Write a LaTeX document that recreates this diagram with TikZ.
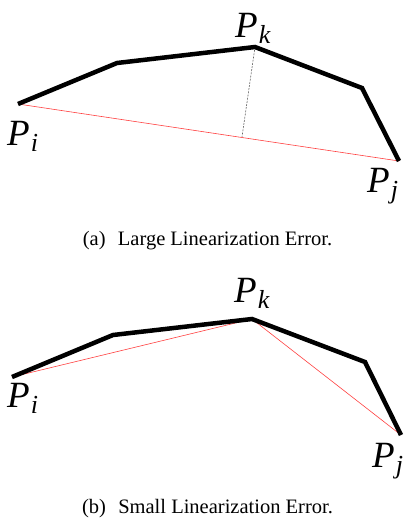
\documentclass[tikz,border=0pt]{standalone}
\usepackage{fontspec}
\setmainfont{Liberation Serif}
\begin{document}
\begin{tikzpicture}[x=1pt,y=-1pt,
  poly/.style={line width=4.5pt,line join=miter,black},
  chord/.style={line width=0.6pt,red!75},
  perp/.style={line width=0.6pt,gray!80!black,dash pattern=on 2pt off 1.2pt},
  lbl/.style={anchor=base west,inner sep=0pt,font=\fontsize{37}{42}\selectfont\itshape},
  captext/.style={anchor=base,inner sep=0pt,font=\fontsize{20.5}{24}\selectfont}]
\useasboundingbox (0,0) rectangle (412,520);
\newcommand\lblsub[2]{#1\hspace{1pt}\raisebox{-6pt}{\fontsize{26}{28}\selectfont #2}}
% top diagram
\coordinate (a1) at (18,104);
\coordinate (a2) at (117,63);
\coordinate (a3) at (255,47);
\coordinate (a4) at (362,88);
\coordinate (a5) at (399,161);
\coordinate (af) at (242,137);
\draw[chord] (a1) -- (a5);
\draw[perp] (a3) -- (af);
\draw[poly] (a1) -- (a2) -- (a3) -- (a4) -- (a5);
\node[lbl] (ai) at (7,145) {\lblsub{P}{i}};
\node[lbl] (ak) at (235,37) {\lblsub{P}{k}};
\node[lbl] (aj) at (367,192) {\lblsub{P}{j}};
\node[captext] (capa) at (207.5,245) {(a)\hspace{0.6em}Large Linearization Error.};
% bottom diagram
\coordinate (b1) at (12,377);
\coordinate (b2) at (113,335);
\coordinate (b3) at (252,319);
\coordinate (b4) at (365,362);
\coordinate (b5) at (401,435);
\draw[chord] (b1) -- (b3) -- (b5);
\draw[poly] (b1) -- (b2) -- (b3) -- (b4) -- (b5);
\node[lbl] (bi) at (7,407) {\lblsub{P}{i}};
\node[lbl] (bk) at (234,302) {\lblsub{P}{k}};
\node[lbl] (bj) at (372,467) {\lblsub{P}{j}};
\node[captext] (capb) at (207.5,513) {(b)\hspace{0.6em}Small Linearization Error.};
\end{tikzpicture}
\end{document}
